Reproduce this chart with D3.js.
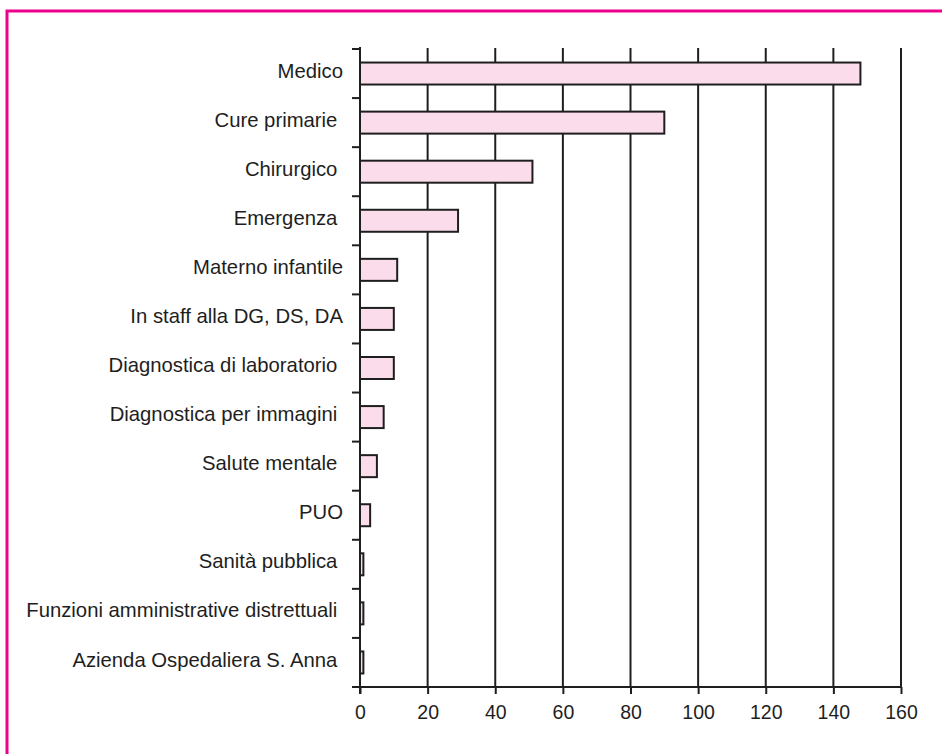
<!DOCTYPE html>
<html>
<head>
<meta charset="utf-8">
<script src="https://cdn.jsdelivr.net/npm/d3@7"></script>
<style>
  body { margin: 0; background: #fff; }
  svg { display: block; }
  text { font-family: "Liberation Sans", Arial, sans-serif; fill: #1e1e1e; }
</style>
</head>
<body>
<svg id="chart" width="942" height="754"></svg>
<script>
// categories, top to bottom (trailing spaces kept as in the original)
const categories = [
  "Medico", "Cure primarie ", "Chirurgico ", "Emergenza ", "Materno infantile",
  "In staff alla DG, DS, DA", "Diagnostica di laboratorio ", "Diagnostica per immagini ",
  "Salute mentale ", "PUO", "Sanità pubblica ", "Funzioni amministrative distrettuali ",
  "Azienda Ospedaliera S. Anna "
];
const values = [148, 90, 51, 29, 11, 10, 10, 7, 5, 3, 1, 1, 1];
const xTicks = [0, 20, 40, 60, 80, 100, 120, 140, 160];

const svg = d3.select("#chart");

// magenta frame (right and bottom edges run off the page)
svg.append("rect")
  .attr("x", 7).attr("y", 11)
  .attr("width", 1000).attr("height", 1000)
  .attr("fill", "none")
  .attr("stroke", "#ec008c")
  .attr("stroke-width", 3);

const plotL = 360, plotR = 901, plotT = 49, plotB = 687;

const x = d3.scaleLinear().domain([0, 160]).range([plotL, plotR]);
const y = d3.scaleBand().domain(categories).range([plotT, plotB]).paddingInner(0).paddingOuter(0);

const ink = "#1e1e1e";

// vertical grid lines
svg.append("g").selectAll("line")
  .data(xTicks.filter(d => d > 0))
  .join("line")
  .attr("x1", d => x(d)).attr("x2", d => x(d))
  .attr("y1", plotT - 1).attr("y2", plotB)
  .attr("stroke", ink).attr("stroke-width", 2);

// x axis
const xAxis = svg.append("g")
  .attr("transform", `translate(0,${plotB})`)
  .call(d3.axisBottom(x).tickValues(xTicks).tickSize(7).tickSizeOuter(0).tickPadding(8));
xAxis.select(".domain").remove();
xAxis.append("line")
  .attr("x1", plotL - 8).attr("x2", plotR)
  .attr("stroke", ink).attr("stroke-width", 2);
xAxis.selectAll(".tick line").attr("stroke", ink).attr("stroke-width", 2);
xAxis.selectAll(".tick text")
  .attr("font-size", "19.5px")
  .attr("font-family", "Liberation Sans, Arial, sans-serif")
  .attr("fill", ink)
  .attr("dy", "0.85em");

// bars
const bandH = y.bandwidth();
const barH = 22;
svg.append("g").selectAll("rect")
  .data(categories.map((c, i) => ({ c, v: values[i] })))
  .join("rect")
  .attr("x", x(0))
  .attr("y", d => y(d.c) + (bandH - barH) / 2)
  .attr("width", d => x(d.v) - x(0))
  .attr("height", barH)
  .attr("fill", "#fbdcea")
  .attr("stroke", ink)
  .attr("stroke-width", 2);

// y axis line and boundary ticks
svg.append("line")
  .attr("x1", plotL).attr("x2", plotL)
  .attr("y1", plotT - 2).attr("y2", plotB + 7)
  .attr("stroke", ink).attr("stroke-width", 2);
svg.append("g").selectAll("line")
  .data(categories)
  .join("line")
  .attr("x1", plotL - 8).attr("x2", plotL)
  .attr("y1", d => y(d)).attr("y2", d => y(d))
  .attr("stroke", ink).attr("stroke-width", 2);

// category labels
svg.append("g").selectAll("text")
  .data(categories)
  .join("text")
  .attr("x", 343)
  .attr("y", d => y(d) + bandH / 2 - 3)
  .attr("dy", "0.35em")
  .attr("text-anchor", "end")
  .attr("font-size", "20.3px")
  .style("white-space", "pre")
  .text(d => d);
</script>
</body>
</html>
